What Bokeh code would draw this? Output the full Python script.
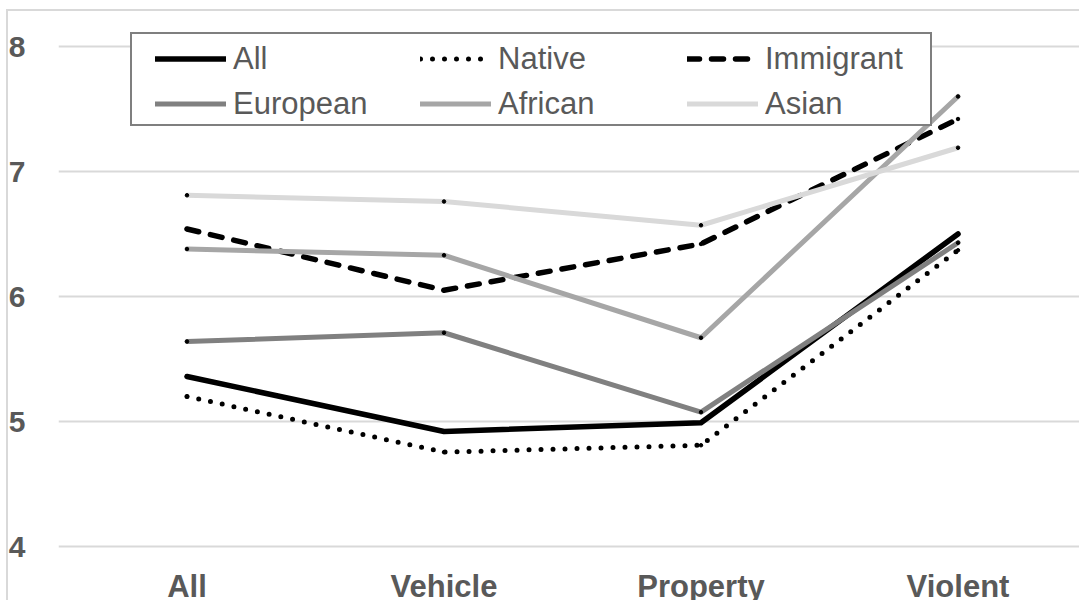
from bokeh.plotting import figure
from bokeh.models import Range1d, FixedTicker, Legend, LegendItem
from bokeh.core.properties import value
from bokeh.embed import file_html
from bokeh.resources import INLINE

# ---- data ----
categories = ["All", "Vehicle", "Property", "Violent"]
series_names = ["All", "Native", "Immigrant", "European", "African", "Asian"]
all_vals = [5.36, 4.92, 4.99, 6.50]
native_vals = [5.20, 4.755, 4.81, 6.37]
immigrant_vals = [6.54, 6.05, 6.42, 7.42]
european_vals = [5.64, 5.71, 5.075, 6.43]
african_vals = [6.38, 6.33, 5.67, 7.60]
asian_vals = [6.81, 6.76, 6.57, 7.19]
y_ticks = [4, 5, 6, 7, 8]

series_values = [all_vals, native_vals, immigrant_vals, european_vals, african_vals, asian_vals]

# ---- styles / layout ----
FONT = "Liberation Sans"
TEXT = "#595959"
GRID = "#D9D9D9"
line_styles = [
    dict(line_color="black", line_width=5.5, line_dash="solid"),
    dict(line_color="black", line_width=5, line_dash="0 12"),
    dict(line_color="black", line_width=5.5, line_dash="12 12"),
    dict(line_color="#808080", line_width=5, line_dash="solid"),
    dict(line_color="#A6A6A6", line_width=5, line_dash="solid"),
    dict(line_color="#D9D9D9", line_width=5, line_dash="solid"),
]

W, H = 1079, 600
FRAME_LEFT, FRAME_TOP = 58, 10
PX_X = 257.0          # pixels per category
PX_Y = 125.0          # pixels per unit
Y8_PIX = 46.0         # pixel row of the top gridline
frame_w = W - FRAME_LEFT
frame_h = H - FRAME_TOP
y_top = y_ticks[-1] + (Y8_PIX - FRAME_TOP) / PX_Y
y_bot = y_top - frame_h / PX_Y

x = list(range(len(categories)))

p = figure(width=W, height=H, output_backend="svg", toolbar_location=None,
           x_range=Range1d(-0.5, -0.5 + frame_w / PX_X), y_range=Range1d(y_bot, y_top),
           min_border_left=FRAME_LEFT, min_border_right=0, min_border_top=FRAME_TOP,
           min_border_bottom=0)
p.outline_line_color = None
p.background_fill_alpha = 0
p.border_fill_alpha = 0
p.styles = {
    "background": ("linear-gradient(#D9D9D9, #D9D9D9) 6px 9px / 2px 700px no-repeat, "
                   "linear-gradient(#D9D9D9, #D9D9D9) 6px 9px / 1200px 2px no-repeat, #FFFFFF"),
}

items = []
for name, vals, st in zip(series_names, series_values, line_styles):
    rl = p.line(x, vals, line_cap="round", line_join="round", **st)
    p.scatter(x, vals, size=3.5, color="black")
    items.append(LegendItem(label=name, renderers=[rl]))

# category labels (below the lowest gridline)
p.text(x=x, y=[y_ticks[0]] * len(x), text=categories, y_offset=40,
       text_align="center", text_baseline="alphabetic",
       text_font=value(FONT), text_font_size="31px", text_font_style="bold",
       text_color=TEXT)
p.xaxis.visible = False

# y axis
p.yaxis.ticker = FixedTicker(ticks=y_ticks)
ax = p.yaxis[0]
ax.axis_line_color = None
ax.major_tick_line_color = None
ax.minor_tick_line_color = None
ax.major_label_text_font = FONT
ax.major_label_text_font_size = "30px"
ax.major_label_text_font_style = "bold"
ax.major_label_text_color = TEXT
ax.major_label_standoff = 27

p.xgrid.visible = False
p.ygrid.ticker = FixedTicker(ticks=y_ticks)
p.ygrid.grid_line_color = GRID
p.ygrid.grid_line_width = 2

# legend frame (box)
LEG_BOTTOM = H - 126
dummy = p.line(x=[], y=[], line_alpha=0)
box = Legend(items=[LegendItem(label=" ", renderers=[dummy])], location=(72, LEG_BOTTOM),
             padding=0, margin=0, spacing=0, glyph_width=797, glyph_height=90,
             label_width=1, label_height=90, label_standoff=0, label_text_font_size="1px",
             border_line_color="black", border_line_width=2,
             background_fill_color="white", background_fill_alpha=1)
p.add_layout(box, "center")

# legend columns
col_x = [97, 362, 629]
for ci, cx in enumerate(col_x):
    lg = Legend(items=[items[ci], items[ci + 3]], location=(cx, LEG_BOTTOM),
                padding=0, margin=0, spacing=0, glyph_width=71, glyph_height=45,
                label_width=60, label_height=45, label_standoff=7,
                label_text_font=FONT, label_text_font_size="31px", label_text_color=TEXT,
                border_line_color=None, background_fill_alpha=0)
    p.add_layout(lg, "center")

open("out.html", "w").write(file_html(p, INLINE))
